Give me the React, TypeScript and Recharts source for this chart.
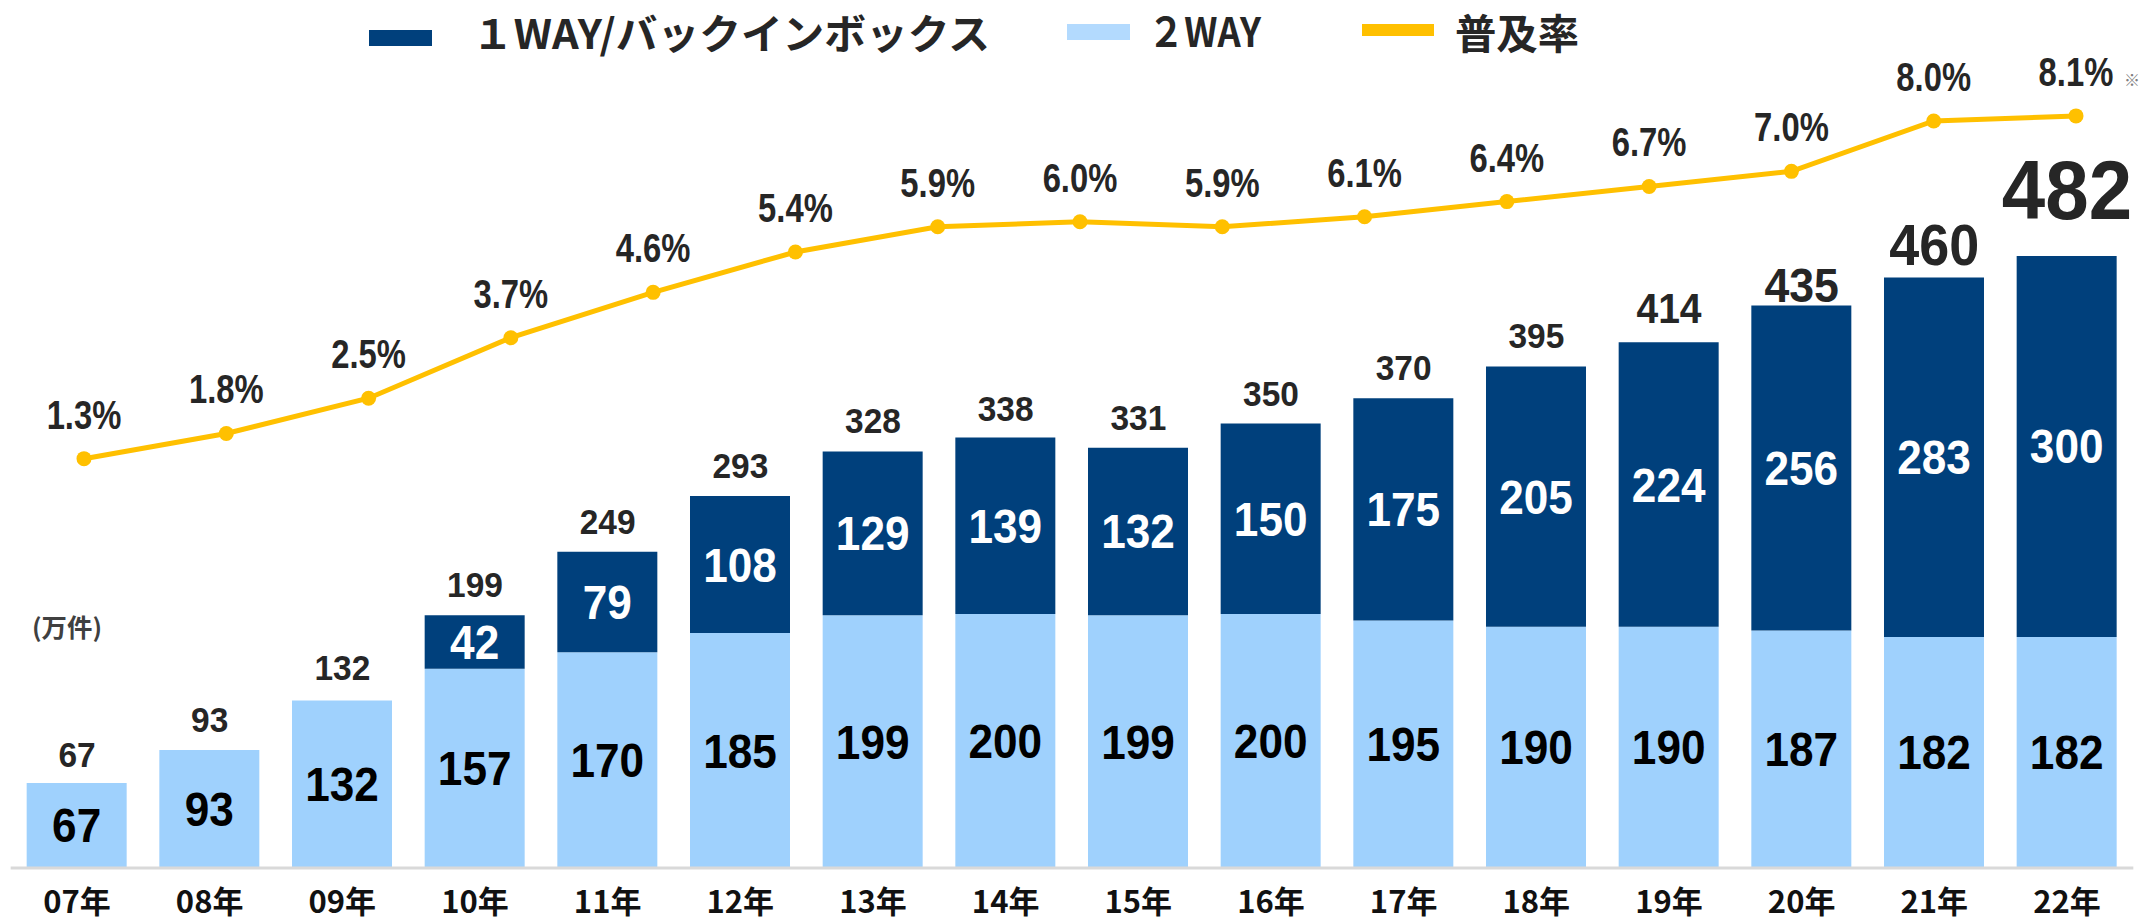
import { ComposedChart, Bar, Line, XAxis, YAxis, LabelList } from 'recharts';

const years = ['07年', '08年', '09年', '10年', '11年', '12年', '13年', '14年', '15年', '16年', '17年', '18年', '19年', '20年', '21年', '22年'];
const twoWay = [67, 93, 132, 157, 170, 185, 199, 200, 199, 200, 195, 190, 190, 187, 182, 182];
const oneWay = [0, 0, 0, 42, 79, 108, 129, 139, 132, 150, 175, 205, 224, 256, 283, 300];
const totals = [67, 93, 132, 199, 249, 293, 328, 338, 331, 350, 370, 395, 414, 435, 460, 482];

// the rate line has its own 15 slots, not aligned with the bars
const rateSlots = [0, 1, 2, 3, 4, 5, 6, 7, 8, 9, 10, 11, 12, 13, 14];
const rates = [1.3, 1.8, 2.5, 3.7, 4.6, 5.4, 5.9, 6.0, 5.9, 6.1, 6.4, 6.7, 7.0, 8.0, 8.1];

const barData = years.map((year, i) => ({ year, twoWay: twoWay[i], oneWay: oneWay[i], total: totals[i] }));
const rateData = rateSlots.map((slot, i) => ({ slot, rate: rates[i] }));

const NAVY = '#00407C';
const LIGHT = '#9FD1FD';
const YELLOW = '#FFC000';
const INK = '#262626';
const NUM_FONT = '"Liberation Sans", Arial, sans-serif';
const JP_FONT = '"Noto Sans CJK JP", "Noto Sans", sans-serif';

// total label sizes grow at the end of the series
const totalSize = [36, 36, 36, 36, 36, 36, 36, 36, 36, 36, 36, 36, 42, 48, 58, 84];
const totalGap = [16, 18, 20, 18, 18, 18, 18, 18, 18, 18, 18, 18, 19, 14, 19, 37];

const SqText = ({ x, y, sx = 1, size, fill = INK, family = NUM_FONT, children }: any) => (
    <text
        transform={`translate(${x},${y}) scale(${sx},1)`}
        textAnchor="middle"
        fontSize={size}
        fontWeight="bold"
        fill={fill}
        fontFamily={family}
    >
        {children}
    </text>
);

const inBarLabel = (fill: string) => (props: any) => {
    const { x, y, width, height, value } = props;
    if (!value) return null;
    return (
        <SqText x={Number(x) + Number(width) / 2} y={Number(y) + Number(height) / 2 + 17} sx={0.92} size={48} fill={fill}>
            {value}
        </SqText>
    );
};

const TotalLabel = (props: any) => {
    const { x, y, value, index } = props;
    return (
        <SqText x={x} y={y - totalGap[index]} sx={0.93} size={totalSize[index]}>
            {value}
        </SqText>
    );
};

const RateLabel = (props: any) => {
    const { x, y, value } = props;
    return (
        <SqText x={x} y={y - 30} sx={0.82} size={40}>
            {Number(value).toFixed(1)}%
        </SqText>
    );
};

const YearTick = (props: any) => {
    const { x, payload } = props;
    return (
        <text x={x} y={913} textAnchor="middle" fontSize={31} fontWeight="bold" fill="#111" fontFamily={JP_FONT}>
            {payload.value}
        </text>
    );
};

const LegendRow = () => (
    <g fontFamily={JP_FONT} fontWeight="bold" fill={INK}>
        <rect x={369} y={30} width={63} height={16} fill={NAVY} />
        <text x={472} y={49} fontSize={41} textLength={518} lengthAdjust="spacingAndGlyphs">１WAY/バックインボックス</text>
        <rect x={1067} y={24} width={63} height={16} fill="#B3DAFE" />
        <text x={1148} y={47} fontSize={40} textLength={113} lengthAdjust="spacingAndGlyphs">２WAY</text>
        <rect x={1362} y={24} width={72} height={12} fill={YELLOW} />
        <text x={1455} y={49} fontSize={41} textLength={124} lengthAdjust="spacingAndGlyphs">普及率</text>
        <text x={32} y={637} fontSize={25} fill="#404040" textLength={70} lengthAdjust="spacingAndGlyphs">(万件)</text>
        <text x={2124} y={86} fontSize={16} fontWeight="normal" fill="#7F7F7F">※</text>
    </g>
);

export default function App() {
    return (
        <div style={{ position: 'absolute', left: 0, top: 0, background: '#fff' }}>
            <ComposedChart
                width={2141}
                height={923}
                data={barData}
                margin={{ top: 68, right: 7.67, left: 10.67, bottom: 0 }}
            >
                <XAxis
                    xAxisId="cat"
                    dataKey="year"
                    height={55}
                    tickLine={false}
                    axisLine={{ stroke: '#D9D9D9', strokeWidth: 3 }}
                    tick={<YearTick />}
                    interval={0}
                />
                <XAxis
                    xAxisId="rate"
                    type="number"
                    dataKey="slot"
                    domain={[-0.5154, 14.403]}
                    allowDataOverflow
                    hide
                />
                <YAxis yAxisId="left" domain={[0, 630]} hide allowDataOverflow />
                <YAxis yAxisId="right" orientation="right" domain={[-6.82, 9.05]} hide allowDataOverflow />
                <Bar xAxisId="cat" yAxisId="left" dataKey="twoWay" stackId="s" fill={LIGHT} barSize={100} isAnimationActive={false}>
                    <LabelList dataKey="twoWay" content={inBarLabel('#000')} />
                </Bar>
                <Bar xAxisId="cat" yAxisId="left" dataKey="oneWay" stackId="s" fill={NAVY} barSize={100} isAnimationActive={false}>
                    <LabelList dataKey="oneWay" content={inBarLabel('#fff')} />
                </Bar>
                <Line
                    xAxisId="cat"
                    yAxisId="left"
                    dataKey="total"
                    stroke="none"
                    dot={false}
                    activeDot={false}
                    isAnimationActive={false}
                    label={<TotalLabel />}
                />
                <Line
                    xAxisId="rate"
                    yAxisId="right"
                    data={rateData}
                    dataKey="rate"
                    type="linear"
                    stroke={YELLOW}
                    strokeWidth={5}
                    dot={{ r: 7.5, fill: YELLOW, stroke: 'none' }}
                    activeDot={false}
                    isAnimationActive={false}
                    label={<RateLabel />}
                />
                <LegendRow />
            </ComposedChart>
        </div>
    );
}
